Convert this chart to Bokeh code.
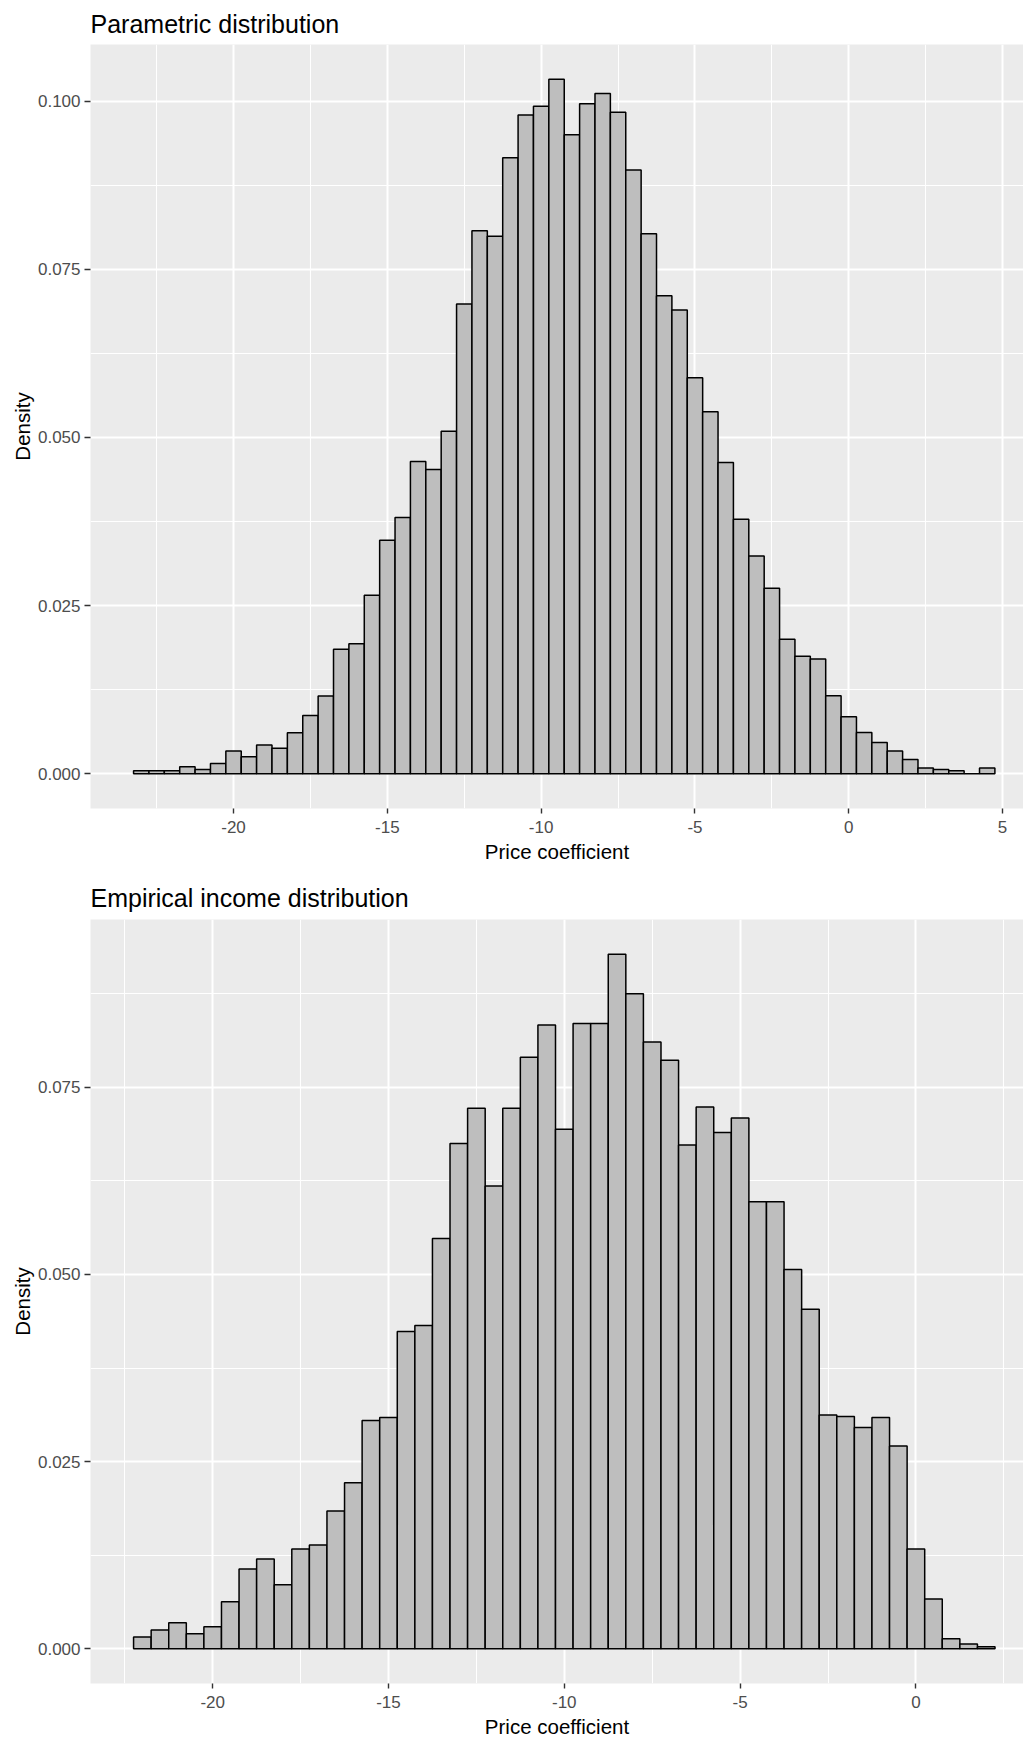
import numpy as np
from bokeh.plotting import figure
from bokeh.models import Range1d, FixedTicker, NumeralTickFormatter, PrintfTickFormatter
from bokeh.layouts import column
from bokeh.embed import file_html
from bokeh.resources import INLINE

# ---------------- data ----------------
titles = ["Parametric distribution", "Empirical income distribution"]
x_label = "Price coefficient"
y_label = "Density"

param_first_edge = -23.25
param_binwidth = 0.5
param_density = [
    0.00045, 0.00045, 0.00045, 0.00104, 0.00064, 0.00153, 0.00337, 0.00253, 0.00426, 0.00381,
    0.00610, 0.00868, 0.01155, 0.01850, 0.01934, 0.02653, 0.03472, 0.03810, 0.04643, 0.04524,
    0.05094, 0.06984, 0.08074, 0.07991, 0.09160, 0.09796, 0.09925, 0.10327, 0.09503, 0.09964,
    0.10113, 0.09836, 0.08978, 0.08030, 0.07107, 0.06894, 0.05887, 0.05381, 0.04628, 0.03784,
    0.03238, 0.02757, 0.01999, 0.01746, 0.01705, 0.01160, 0.00848, 0.00615, 0.00466, 0.00337,
    0.00213, 0.00084, 0.00064, 0.00045, 0.00000, 0.00084,
]

emp_first_edge = -22.25
emp_binwidth = 0.5
emp_density = [
    0.00156, 0.00250, 0.00348, 0.00201, 0.00294, 0.00628, 0.01066, 0.01199, 0.00856, 0.01333,
    0.01386, 0.01841, 0.02219, 0.03048, 0.03088, 0.04238, 0.04318, 0.05481, 0.06751, 0.07219,
    0.06182, 0.07219, 0.07901, 0.08334, 0.06939, 0.08352, 0.08352, 0.09278, 0.08749, 0.08107,
    0.07861, 0.06730, 0.07238, 0.06898, 0.07091, 0.05972, 0.05972, 0.05067, 0.04537, 0.03124,
    0.03102, 0.02955, 0.03088, 0.02710, 0.01333, 0.00664, 0.00134, 0.00063, 0.00027,
]

x_ticks = [-20, -15, -10, -5, 0, 5]
x_minor = [-22.5, -17.5, -12.5, -7.5, -2.5, 2.5]
y_ticks = [0.0, 0.025, 0.05, 0.075, 0.1]
y_minor = [0.0125, 0.0375, 0.0625, 0.0875]

FONT = "Liberation Sans"


def make(title, first_edge, bw, dens, x_range, height, top_b, bottom_b, title_standoff):
    dens = np.asarray(dens, dtype=float)
    left = first_edge + bw * np.arange(len(dens))
    right = left + bw
    m = dens.max()
    p = figure(
        width=1023, height=height,
        min_border_left=90, min_border_right=0,
        min_border_top=top_b, min_border_bottom=bottom_b,
        x_range=Range1d(*x_range), y_range=Range1d(-0.05 * m, 1.05 * m),
        output_backend="svg", toolbar_location=None,
        background_fill_color="#EBEBEB", border_fill_color="white",
        outline_line_color=None,
    )
    p.quad(left=left, right=right, bottom=0, top=dens,
           fill_color="#BEBEBE", line_color="black", line_width=1.5)

    p.title.text = title
    p.title.text_font = FONT
    p.title.text_font_size = "25px"
    p.title.text_font_style = "normal"
    p.title.text_color = "black"
    p.title.align = "left"
    p.title.standoff = title_standoff

    xt = FixedTicker(ticks=x_ticks, minor_ticks=x_minor)
    yt = FixedTicker(ticks=y_ticks, minor_ticks=y_minor)
    p.xaxis.ticker = xt
    p.yaxis.ticker = yt
    p.xgrid.ticker = xt
    p.ygrid.ticker = yt
    p.xaxis.formatter = PrintfTickFormatter(format="%d")
    p.yaxis.formatter = NumeralTickFormatter(format="0.000")

    for g in (p.xgrid, p.ygrid):
        g.grid_line_color = "white"
        g.grid_line_width = 2
        g.minor_grid_line_color = "white"
        g.minor_grid_line_width = 1.1

    for ax in (p.xaxis, p.yaxis):
        ax.axis_line_color = None
        ax.minor_tick_line_color = None
        ax.major_tick_line_color = "#333333"
        ax.major_tick_line_width = 1.4
        ax.major_tick_in = 0
        ax.major_label_text_font = FONT
        ax.major_label_text_font_size = "17px"
        ax.major_label_text_color = "#4D4D4D"
        ax.axis_label_text_font = FONT
        ax.axis_label_text_font_size = "20.5px"
        ax.axis_label_text_font_style = "normal"
        ax.axis_label_text_color = "black"

    p.xaxis.axis_label = x_label
    p.yaxis.axis_label = y_label
    p.xaxis.major_tick_out = 5
    p.xaxis.major_label_standoff = 7
    p.xaxis.axis_label_standoff = 4
    p.yaxis.major_tick_out = 6
    p.yaxis.major_label_standoff = 4
    p.yaxis.axis_label_standoff = 1
    return p


p1 = make(titles[0], param_first_edge, param_binwidth, param_density,
          (-24.65, 5.68), 868, 44, 60, 13)
p2 = make(titles[1], emp_first_edge, emp_binwidth, emp_density,
          (-23.475, 3.06), 872, 51, 57, 15)

layout = column(p1, p2)
open("out.html", "w").write(file_html(layout, INLINE))
